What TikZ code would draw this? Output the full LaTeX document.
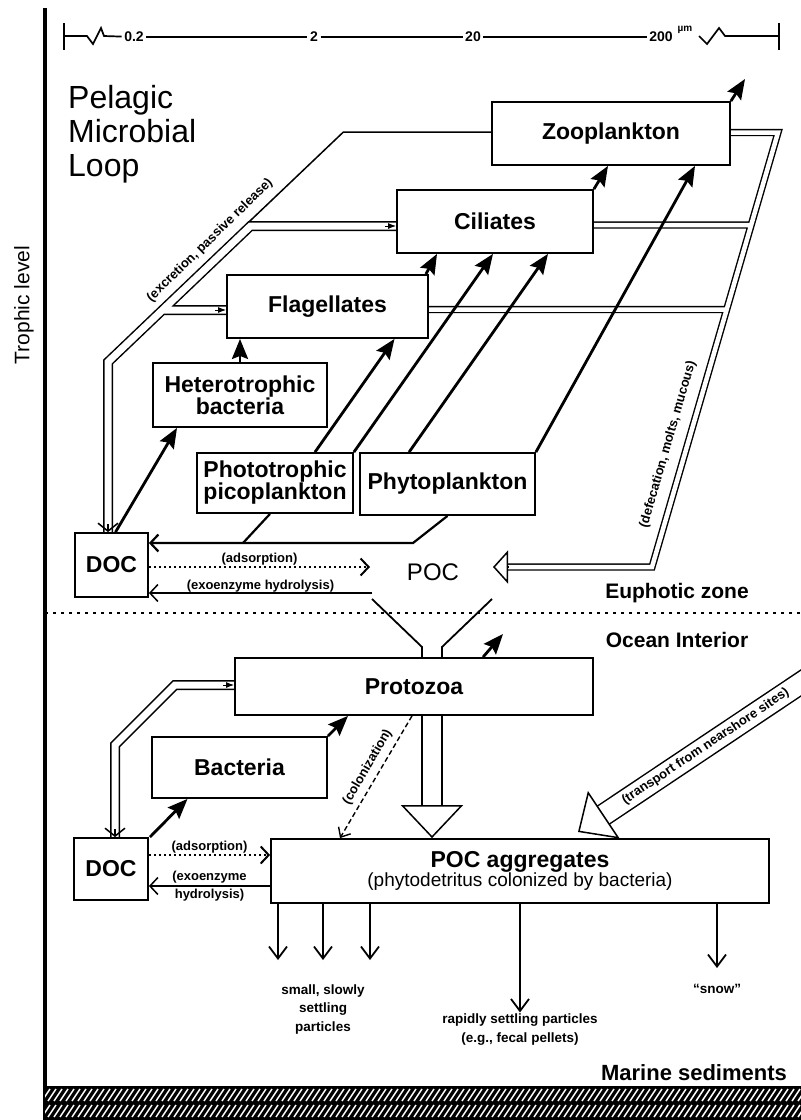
\documentclass[tikz,border=0pt]{standalone}
\usepackage{fontspec}
\setmainfont{Liberation Sans}
\usetikzlibrary{arrows.meta, positioning, calc}

\pgfdeclarelayer{background}
\pgfsetlayers{background,main}

\newcommand{\boxfont}{\fontsize{23}{22}\selectfont\bfseries}
\newcommand{\notefont}{\fontsize{13}{15}\selectfont\bfseries}

\begin{document}
\begin{tikzpicture}[
                x=1pt, y=-1pt,
                box/.style={
                    draw,
                    line width=1.8pt,
                    fill=white,
                    inner sep=0pt,
                    align=center,
                    font=\boxfont
                },
                zone/.style={font=\fontsize{21}{21}\selectfont\bfseries},
                note/.style={font=\notefont, inner sep=1.5pt},
                sbnum/.style={font=\fontsize{14}{14}\selectfont\bfseries, inner sep=2.5pt},
                scalebar/.style={line width=1.7pt},
                feed/.style={line width=2.8pt, -{Stealth[length=20pt, width=16pt, inset=3pt]}},
                flow/.style={line width=1.5pt, -{Straight Barb[length=8pt, width=17pt]}},
                adsorb/.style={flow, dash pattern=on 2pt off 3pt, line width=2pt},
                colon/.style={line width=1.4pt, dash pattern=on 5pt off 3pt, -{Straight Barb[length=8pt, width=14pt]}},
                settle/.style={line width=1.8pt, -{Straight Barb[length=12pt, width=18pt]}},
                nib/.style={line width=1pt, -{Latex[length=8pt, width=6pt]}},
                pipel/.style={draw=white, line width=7pt, preaction={draw=black, line width=10pt}},
                piper/.style={draw=white, line width=4.5pt, preaction={draw=black, line width=7.3pt}},
                pipew/.style={draw=white, line width=20pt, preaction={draw=black, line width=23pt}},
                hollow/.style 2 args={line width=1.5pt, -{Triangle[length=#1, width=#2, fill=white]}},
                zoneline/.style={line width=2.4pt, dash pattern=on 3pt off 5pt}
            ]
                \useasboundingbox (0,0) rectangle (801,1120);

                \coordinate (axT) at (45,8);
                \coordinate (axB) at (45,1120);
                \draw[line width=4pt] (axT) -- (axB);

                \coordinate (sbL) at (64,36);
                \coordinate (sbR) at (779,36);
                \coordinate (brkR) at (699,36);
                \node[sbnum] (n02) at (134,37) {0.2};
                \node[sbnum] (n2) at (314,37) {2};
                \node[sbnum] (n20) at (473,37) {20};
                \node[sbnum] (n200) at (661,37) {200};
                \node[font=\fontsize{10}{10}\selectfont\bfseries, inner sep=0pt] (unit) at (685,30) {µm};
                \draw[scalebar] ([yshift=13pt]sbL) -- ([yshift=-14pt]sbL);
                \draw[scalebar] ([yshift=13pt]sbR) -- ([yshift=-14pt]sbR);
                \draw[scalebar] (sbL) -- ++(23,0) -- ++(6,8) -- ++(8,-16) -- ++(3,8) -- (n02);
                \draw[scalebar] (n02) -- (n2) -- (n20) -- (n200);
                \draw[scalebar] (brkR) -- ++(8,8) -- ++(12,-16) -- ++(6,8) -- (sbR);

                \node[anchor=north west, inner sep=0pt, align=left, font=\fontsize{32}{34}\selectfont] (title) at (68,85) {Pelagic\\Microbial\\Loop};
                \node[rotate=90, font=\fontsize{21}{21}\selectfont] (troph) at (24,305) {Trophic level};

                \node[box, minimum width=238pt, minimum height=63pt] (zoo) at (611,133.5) {Zooplankton};
                \node[box, minimum width=196pt, minimum height=63pt] (cil) at (495,221.5) {Ciliates};
                \node[box, minimum width=201pt, minimum height=63pt] (flag) at (327.5,306.5) {Flagellates};
                \node[box, minimum width=174pt, minimum height=64pt] (hbac) at (240,395) {Heterotrophic\\bacteria};
                \node[box, minimum width=156pt, minimum height=60pt] (pico) at (275,483) {Phototrophic\\picoplankton};
                \node[box, minimum width=175pt, minimum height=62pt] (phyto) at (447.5,484) {Phytoplankton};
                \node[box, minimum width=73pt, minimum height=64pt] (doc1) at (111.5,565) {DOC};
                \node[font=\fontsize{24}{24}\selectfont, inner sep=2pt] (poc1) at (433,572) {POC};

                \node[box, minimum width=358pt, minimum height=57pt] (proto) at (414,686.5) {Protozoa};
                \node[box, minimum width=175pt, minimum height=61pt] (bact) at (239.5,767.5) {Bacteria};
                \node[box, minimum width=74pt, minimum height=62pt] (doc2) at (111,869) {DOC};
                \node[box, minimum width=498pt, minimum height=64pt] (agg) at (520,871) {POC aggregates\\[-3pt]{\fontsize{19}{21}\selectfont\mdseries (phytodetritus colonized by bacteria)}};

                \node[zone] (euph) at (677,593) {Euphotic zone};
                \node[zone] (ocean) at (677,640) {Ocean Interior};
                \node[zone, font=\fontsize{22}{22}\selectfont\bfseries] (sedlab) at (694,1073) {Marine sediments};

                \coordinate (zoneW) at (45,613);
                \coordinate (zoneE) at (801,613);
                \draw[zoneline] (zoneW) -- (zoneE);

                \coordinate (exA) at (343.4,132);
                \coordinate (exJ) at (249.1,221.8);
                \coordinate (lJ1) at (250.5,226);
                \coordinate (lJ2) at (162,310);
                \coordinate (lB) at (108,362);
                \coordinate (lE) at (doc1.north -| lB);
                \coordinate (rA) at (778,132.5);
                \coordinate (rB) at (652,567);
                \coordinate (rC) at (508,567);
                \coordinate (rT) at (493,567);
                \coordinate (rJ1) at (751.3,225);
                \coordinate (rJ2) at (726.9,309.5);
                \coordinate (pA) at (175,685);
                \coordinate (pB) at (115,745);
                \coordinate (pE) at (doc2.north -| pB);
                \coordinate (fuL) at (372,599);
                \coordinate (fuR) at (492,599);
                \coordinate (fuLk) at (422,647);
                \coordinate (fuRk) at (442,647);
                \coordinate (fuB) at (432,805);
                \coordinate (trS) at (812,675.6);
                \coordinate (trB) at (603.5,815);
                \coordinate (trT) at (578,832);

                \begin{pgfonlayer}{background}
                    \draw[pipel] ([yshift=-4.5pt]cil.west) -- (lJ1) -- (lB) -- (lE) ([yshift=-3.5pt]flag.west) -- (lJ2);
                    \draw[piper] ([yshift=1pt]zoo.east) -- (rA) -- (rB) -- (rC) ([yshift=-3.5pt]cil.east) -- (rJ1) ([yshift=-3pt]flag.east) -- (rJ2);
                    \draw[pipel] ([yshift=1.5pt]proto.west) -- (pA) -- (pB) -- (pE);
                    \draw[pipew] (trS) -- (trB);
                    \draw[line width=1.8pt] (fuL) -- (fuLk) -- (fuLk |- fuB) (fuR) -- (fuRk) -- (fuRk |- fuB);
                \end{pgfonlayer}

                \draw[line width=1.5pt] ([yshift=1.5pt]zoo.west) -- (exA) -- (exJ);
                \draw[flow, -{Straight Barb[length=8pt, width=20pt]}] ([yshift=8pt]lE) -- (lE);
                \draw[flow, -{Straight Barb[length=8pt, width=20pt]}] ([yshift=8pt]pE) -- (pE);
                \draw[nib] ([xshift=-11pt, yshift=-4.5pt]cil.west) -- ([yshift=-4.5pt]cil.west);
                \draw[nib] ([xshift=-11pt, yshift=-3.5pt]flag.west) -- ([yshift=-3.5pt]flag.west);
                \draw[nib] ([xshift=-11pt, yshift=1.5pt]proto.west) -- ([yshift=1.5pt]proto.west);
                \draw[hollow={15pt}{33pt}] (rC) -- (rT);
                \draw[hollow={33pt}{62pt}] (fuB) -- (fuB |- agg.north);
                \draw[hollow={31pt}{57pt}] (trB) -- (trT);

                \path (exA) -- (lB) node[note, sloped, pos=.52, above=8pt] {(excretion, passive release)};
                \path (rA) -- (rB) node[note, sloped, pos=.73, above=11pt] {(defecation, molts, mucous)};
                \path (trS) -- (trB) node[note, sloped, pos=.51] {(transport from nearshore sites)};

                \draw[feed] ([xshift=4pt]doc1.north) -- ([xshift=-63pt]hbac.south);
                \draw[feed] (hbac.north) -- (hbac.north |- flag.south);
                \draw[feed] ([xshift=-3pt]flag.north east) -- ([xshift=-58pt]cil.south);
                \draw[feed] (cil.north east) -- ([xshift=-3pt]zoo.south);
                \coordinate (zooUp) at (745,79);
                \draw[feed] (zoo.north east) -- (zooUp);
                \draw[feed] ([xshift=40pt]pico.north) -- ([xshift=67pt]flag.south);
                \draw[feed] (pico.north east) -- ([xshift=-2pt]cil.south);
                \draw[feed] ([xshift=50pt]phyto.north west) -- ([xshift=53pt]cil.south);
                \draw[feed] (phyto.north east) -- ([xshift=84pt]zoo.south);

                \coordinate (relA) at (413,543);
                \coordinate (relB) at (243,543);
                \draw[flow, line width=2.2pt] (phyto.south) -- (relA) -- (relA -| doc1.east);
                \draw[line width=2.2pt] ([xshift=-5pt]pico.south) -- (relB);

                \coordinate (ad1) at ([yshift=-2pt]doc1.east);
                \coordinate (adE) at (370,567);
                \draw[adsorb] (ad1) -- (adE) node[note, midway, above=-1pt] {(adsorption)};
                \coordinate (hy1) at ([yshift=-28pt]doc1.east);
                \coordinate (hyS) at (372,593);
                \draw[flow] (hyS) -- (hy1) node[note, midway, above=-1pt] {(exoenzyme hydrolysis)};

                \draw[feed] ([xshift=1pt]doc2.north east) -- ([xshift=-52pt]bact.south);
                \draw[feed] (bact.north east) -- ([xshift=-66pt]proto.south);
                \coordinate (protoUp) at (503,634);
                \draw[feed] ([xshift=69pt]proto.north) -- (protoUp);
                \draw[colon] ([xshift=-2pt]proto.south) -- ([xshift=-180pt]agg.north) node[note, sloped, pos=.47, above=4pt] {(colonization)};

                \coordinate (ad2) at ([yshift=14pt]doc2.east);
                \draw[adsorb] (ad2) -- (ad2 -| agg.west) node[note, midway, above=-1pt] {(adsorption)};
                \coordinate (hy2) at ([yshift=-17pt]doc2.east);
                \draw[flow] (hy2 -| agg.west) -- (hy2) node[note, midway, above=1pt] {(exoenzyme} node[note, midway, below=1pt] {hydrolysis)};

                \node[note, align=center, font=\fontsize{13.5}{18.5}\selectfont\bfseries] (slow) at (323,1009) {small, slowly\\settling\\particles};
                \node[note, align=center, font=\fontsize{13.5}{19}\selectfont\bfseries] (rapid) at (520,1030) {rapidly settling particles\\(e.g., fecal pellets)};
                \node[note, font=\fontsize{13.5}{15}\selectfont\bfseries] (snow) at (717,989) {``snow''};
                \coordinate (s1) at (278,960);
                \coordinate (s2) at (323,960);
                \coordinate (s3) at (370,960);
                \coordinate (s5) at (717,968);
                \draw[settle] (agg.south -| s1) -- (s1);
                \draw[settle] (agg.south -| s2) -- (s2);
                \draw[settle] (agg.south -| s3) -- (s3);
                \draw[settle] (agg.south) -- (rapid.north);
                \draw[settle] (agg.south -| s5) -- (s5);

                \coordinate (sedTL) at (45,1086);
                \coordinate (sedBR) at (801,1120);
                \fill (sedTL) rectangle (sedBR);
                \begin{scope}
                    \clip (sedTL) rectangle (sedBR);
                    \foreach \x in {30,36,...,810} {
                        \draw[white, line width=1.5pt] (\x,1101) -- ++(8,-12);
                        \draw[white, line width=1.5pt] (\x,1117) -- ++(8,-12);
                    }
                \end{scope}
            \end{tikzpicture}
\end{document}
